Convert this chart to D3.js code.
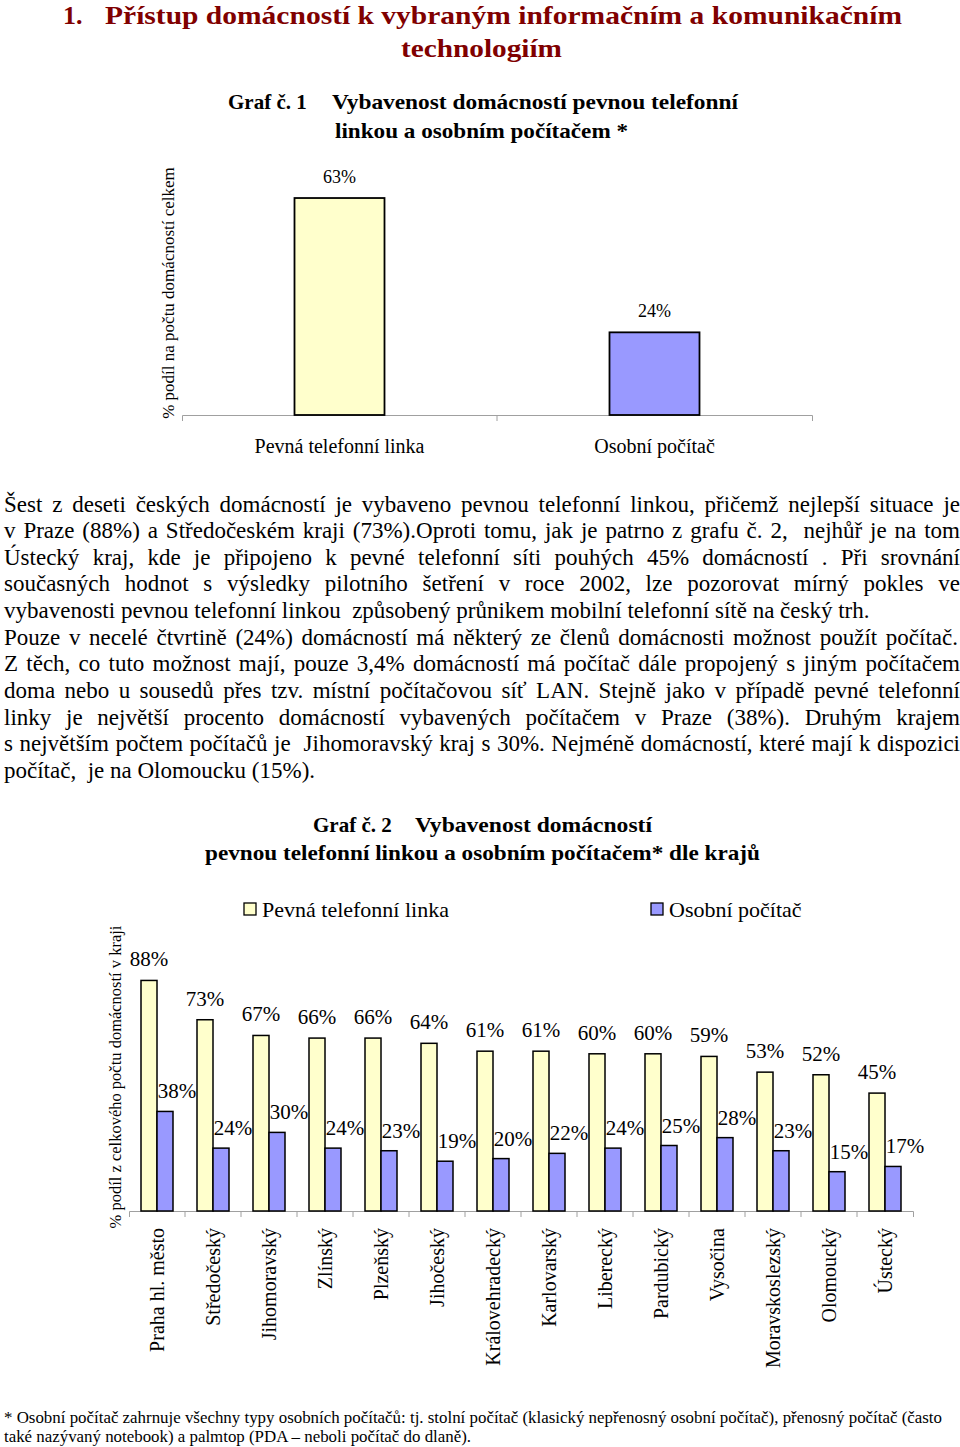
<!DOCTYPE html>
<html>
<head>
<meta charset="utf-8">
<script src="https://cdn.jsdelivr.net/npm/d3@7"></script>
<style>
  html, body { margin: 0; padding: 0; background: #fff; }
  svg { display: block; }
  text { font-family: "Liberation Serif", "Times New Roman", serif; fill: #000; white-space: pre; }
</style>
</head>
<body>
<svg id="page" width="960" height="1447"></svg>
<script>
// ---------- DATA ----------
const summaryCategories = ["Pevná telefonní linka", "Osobní počítač"];
const summaryValues = [63, 24];

const regions = ["Praha hl. město", "Středočeský", "Jihomoravský", "Zlínský", "Plzeňský",
  "Jihočeský", "Královehradecký", "Karlovarský", "Liberecký", "Pardubický",
  "Vysočina", "Moravskoslezský", "Olomoucký", "Ústecký"];
const fixedLineValues = [88, 73, 67, 66, 66, 64, 61, 61, 60, 60, 59, 53, 52, 45];
const computerValues = [38, 24, 30, 24, 23, 19, 20, 22, 24, 25, 28, 23, 15, 17];
const seriesNames = ["Pevná telefonní linka", "Osobní počítač"];

const bodyLines = [
  "Šest z deseti českých domácností je vybaveno pevnou telefonní linkou, přičemž nejlepší situace je",
  "v Praze (88%) a Středočeském kraji (73%).Oproti tomu, jak je patrno z grafu č. 2,  nejhůř je na tom",
  "Ústecký kraj, kde je připojeno k pevné telefonní síti pouhých 45% domácností . Při srovnání",
  "současných hodnot s výsledky pilotního šetření v roce 2002, lze pozorovat mírný pokles ve",
  "vybavenosti pevnou telefonní linkou  způsobený průnikem mobilní telefonní sítě na český trh.",
  "Pouze v necelé čtvrtině (24%) domácností má některý ze členů domácnosti možnost použít počítač.",
  "Z těch, co tuto možnost mají, pouze 3,4% domácností má počítač dále propojený s jiným počítačem",
  "doma nebo u sousedů přes tzv. místní počítačovou síť LAN. Stejně jako v případě pevné telefonní",
  "linky je největší procento domácností vybavených počítačem v Praze (38%). Druhým krajem",
  "s největším počtem počítačů je  Jihomoravský kraj s 30%. Nejméně domácností, které mají k dispozici",
  "počítač,  je na Olomoucku (15%)."
];
const bodyJustified = [true, true, true, true, false, true, true, true, true, true, false];

const footnoteLines = [
  "* Osobní počítač zahrnuje všechny typy osobních počítačů: tj. stolní počítač (klasický nepřenosný osobní počítač), přenosný počítač (často",
  "také nazývaný notebook) a palmtop (PDA – neboli počítač do dlaně)."
];

// ---------- HELPERS ----------
const svg = d3.select("#page");
svg.append("rect").attr("width", 960).attr("height", 1447).attr("fill", "#fff");

function fit(sel, w) {
  sel.attr("textLength", w).attr("lengthAdjust", "spacingAndGlyphs");
  return sel;
}
function justify(sel, w) {
  const node = sel.node();
  const natural = node.getComputedTextLength();
  const n = (sel.text().match(/ /g) || []).length;
  if (n > 0) {
    const ws = (w - natural) / n;
    if (ws >= 0) sel.style("word-spacing", ws + "px");
    else fit(sel, w);
  }
  return sel;
}

const YELLOW = "#FFFFCC", BLUE = "#9999FF", AXIS = "#a0a0a0";

// ---------- HEADINGS ----------
const titleColor = "#800000";
svg.append("text").attr("x", 63).attr("y", 24).attr("font-size", 26).attr("font-weight", "bold")
  .style("fill", titleColor).text("1.");
fit(svg.append("text").attr("x", 105).attr("y", 24).attr("font-size", 26).attr("font-weight", "bold")
  .style("fill", titleColor).text("Přístup domácností k vybraným informačním a komunikačním"), 797);
fit(svg.append("text").attr("x", 401).attr("y", 57).attr("font-size", 26).attr("font-weight", "bold")
  .style("fill", titleColor).text("technologiím"), 161);

svg.append("text").attr("x", 228).attr("y", 109).attr("font-size", 21).attr("font-weight", "bold").text("Graf č. 1");
fit(svg.append("text").attr("x", 332).attr("y", 109).attr("font-size", 21).attr("font-weight", "bold")
  .text("Vybavenost domácností pevnou telefonní"), 406);
fit(svg.append("text").attr("x", 335).attr("y", 138).attr("font-size", 21).attr("font-weight", "bold")
  .text("linkou a osobním počítačem *"), 293);

// ---------- CHART 1 ----------
const x1 = d3.scaleBand().domain(summaryCategories).range([182, 812]);
const y1 = d3.scaleLinear().domain([0, 70]).range([415, 415 - 70 * 3.444]);
const bar1W = x1.bandwidth() * 90 / 315;

const g1 = svg.append("g");
const ax1 = g1.append("g").attr("transform", "translate(0,415)")
  .call(d3.axisBottom(x1).tickSize(0).tickSizeOuter(6).tickFormat(""));
ax1.select(".domain").attr("stroke", AXIS);
g1.selectAll("line.tb").data(summaryCategories.slice(1)).join("line")
  .attr("x1", d => x1(d)).attr("x2", d => x1(d)).attr("y1", 415).attr("y2", 421)
  .attr("stroke", AXIS);

g1.selectAll("rect.b").data(summaryCategories).join("rect")
  .attr("x", d => x1(d) + (x1.bandwidth() - bar1W) / 2)
  .attr("y", (d, i) => y1(summaryValues[i]))
  .attr("width", bar1W)
  .attr("height", (d, i) => y1(0) - y1(summaryValues[i]))
  .attr("fill", (d, i) => i === 0 ? YELLOW : BLUE)
  .attr("stroke", "#000").attr("stroke-width", 1.8);

g1.selectAll("text.v").data(summaryCategories).join("text")
  .attr("x", d => x1(d) + x1.bandwidth() / 2)
  .attr("y", (d, i) => y1(summaryValues[i]) - 15)
  .attr("text-anchor", "middle").attr("font-size", 18)
  .text((d, i) => summaryValues[i] + "%");

g1.selectAll("text.c").data(summaryCategories).join("text")
  .attr("x", d => x1(d) + x1.bandwidth() / 2)
  .attr("y", 453)
  .attr("text-anchor", "middle").attr("font-size", 20)
  .text(d => d);

g1.append("text").attr("transform", "translate(168,293) rotate(-90)")
  .attr("text-anchor", "middle").attr("dy", "0.35em").attr("font-size", 17)
  .text("% podíl na počtu domácností celkem");

// ---------- BODY TEXT ----------
bodyLines.forEach((line, i) => {
  const t = svg.append("text").attr("x", 4).attr("y", 511.5 + i * 26.65)
    .attr("font-size", 23).text(line);
  if (bodyJustified[i]) justify(t, i === 5 ? 954 : 956);
});

// ---------- CHART 2 TITLE ----------
svg.append("text").attr("x", 313).attr("y", 832).attr("font-size", 21).attr("font-weight", "bold").text("Graf č. 2");
fit(svg.append("text").attr("x", 415).attr("y", 832).attr("font-size", 21).attr("font-weight", "bold")
  .text("Vybavenost domácností"), 237);
fit(svg.append("text").attr("x", 205).attr("y", 860).attr("font-size", 21).attr("font-weight", "bold")
  .text("pevnou telefonní linkou a osobním počítačem* dle krajů"), 555);

// ---------- CHART 2 ----------
const x2 = d3.scaleBand().domain(regions).range([129, 913]);
const xs = d3.scaleBand().domain(seriesNames).range([12, 44]);
const y2 = d3.scaleLinear().domain([0, 100]).range([1211, 1211 - 262]);

const g2 = svg.append("g");
const ax2 = g2.append("g").attr("transform", "translate(0,1211)")
  .call(d3.axisBottom(x2).tickSize(0).tickSizeOuter(6).tickFormat(""));
ax2.select(".domain").attr("stroke", AXIS);
g2.selectAll("line.tb").data(regions.slice(1)).join("line")
  .attr("x1", d => x2(d)).attr("x2", d => x2(d)).attr("y1", 1211).attr("y2", 1217)
  .attr("stroke", AXIS);

const rows = regions.map((r, i) => ({ region: r, vals: [fixedLineValues[i], computerValues[i]] }));

const grp = g2.selectAll("g.r").data(rows).join("g").attr("transform", d => `translate(${x2(d.region)},0)`);
grp.selectAll("rect").data(d => d.vals.map((v, k) => ({ s: seriesNames[k], v, k }))).join("rect")
  .attr("x", d => xs(d.s)).attr("width", xs.bandwidth())
  .attr("y", d => y2(d.v)).attr("height", d => y2(0) - y2(d.v))
  .attr("fill", d => d.k === 0 ? YELLOW : BLUE)
  .attr("stroke", "#000").attr("stroke-width", 1.5);
grp.selectAll("text").data(d => d.vals.map((v, k) => ({ s: seriesNames[k], v, k }))).join("text")
  .attr("x", d => xs(d.s) + xs.bandwidth() / 2 + (d.k === 1 ? 12 : 0))
  .attr("y", d => y2(d.v) - (d.k === 0 ? 14 : 13))
  .attr("text-anchor", "middle").attr("font-size", 21)
  .text(d => d.v + "%");

g2.selectAll("text.cat").data(regions).join("text")
  .attr("transform", d => `translate(${x2(d) + x2.bandwidth() / 2},1228) rotate(-90)`)
  .attr("text-anchor", "end").attr("dy", "0.35em").attr("font-size", 20)
  .text(d => d);

g2.append("text").attr("transform", "translate(115,1077) rotate(-90)")
  .attr("text-anchor", "middle").attr("dy", "0.35em").attr("font-size", 16.5)
  .text("% podíl z celkového počtu domácností v kraji");

// legend
const legendX = [244, 651];
seriesNames.forEach((s, i) => {
  svg.append("rect").attr("x", legendX[i]).attr("y", 903).attr("width", 12).attr("height", 12)
    .attr("fill", i === 0 ? YELLOW : BLUE).attr("stroke", "#000").attr("stroke-width", 1.3);
  svg.append("text").attr("x", legendX[i] + 18).attr("y", 917).attr("font-size", 22).text(s);
});

// ---------- FOOTNOTE ----------
fit(svg.append("text").attr("x", 4).attr("y", 1423).attr("font-size", 16).text(footnoteLines[0]), 938);
fit(svg.append("text").attr("x", 4).attr("y", 1442).attr("font-size", 16).text(footnoteLines[1]), 467);
</script>
</body>
</html>
